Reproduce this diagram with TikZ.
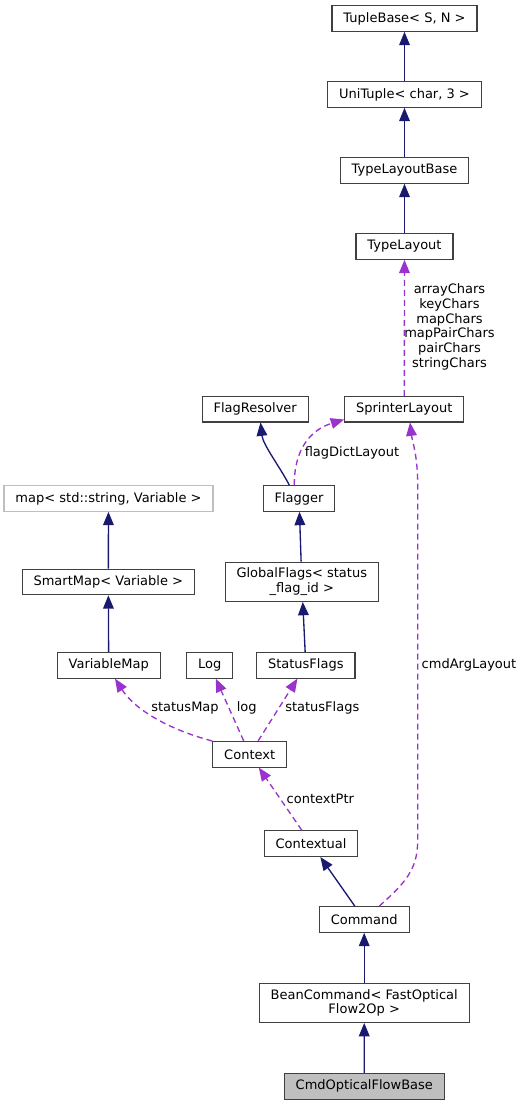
\documentclass[tikz,border=0pt]{standalone}
\usepackage{fontspec}
\setmainfont{DejaVu Sans}
\usetikzlibrary{arrows.meta,calc}
\definecolor{edgeblue}{HTML}{191970}
\definecolor{edgepurple}{HTML}{9A32CD}
\definecolor{boxgray}{HTML}{404040}
\definecolor{faintgray}{HTML}{BFBFBF}

\begin{document}
\begin{tikzpicture}[x=0.75pt, y=0.75pt,
    font=\fontsize{9.75}{11.1}\selectfont,
    cls/.style={rectangle, draw=boxgray, line width=0.8pt, fill=white, minimum height=19.2pt,
      inner xsep=8.6pt, inner ysep=4.3pt, align=center},
    inh/.style={color=edgeblue, line width=1pt, -{Triangle[length=10pt, width=8pt]}},
    use/.style={color=edgepurple, line width=1pt, dash pattern=on 4.5pt off 3pt,
      -{Triangle[length=10pt, width=8pt]}},
    lbl/.style={align=center, inner sep=0pt}]
      \useasboundingbox (0, 0) rectangle (522, 1105);

      % Nodes
      \node[cls] at (404.5, 1086.5) (TupleBase) {TupleBase< S, N >};
      \node[cls] at (404.5, 1010.5) (UniTuple) {UniTuple< char, 3 >};
      \node[cls] at (404.5, 934.5) (TypeLayoutBase) {TypeLayoutBase};
      \node[cls] at (404.5, 858.5) (TypeLayout) {TypeLayout};
      \node[cls] at (255.2, 695.8) (FlagResolver) {FlagResolver};
      \node[cls] at (404.3, 695.8) (SprinterLayout) {SprinterLayout};
      \node[cls, draw=faintgray] at (108.5, 606.5) (StdMap) {map< std::string, Variable >};
      \node[cls] at (299, 606.5) (Flagger) {Flagger};
      \node[cls] at (108.3, 523) (SmartMap) {SmartMap< Variable >};
      \node[cls] at (301.8, 523.2) (GlobalFlags) {GlobalFlags< status\\\_flag\_id >};
      \node[cls] at (108.7, 439.7) (VariableMap) {VariableMap};
      \node[cls] at (209.8, 439.7) (Log) {Log};
      \node[cls] at (305.8, 439.7) (StatusFlags) {StatusFlags};
      \node[cls] at (249.7, 350.7) (Context) {Context};
      \node[cls] at (311, 261.3) (Contextual) {Contextual};
      \node[cls] at (364.2, 185.5) (Command) {Command};
      \node[cls] at (364.2, 102) (BeanCommand) {BeanCommand< FastOptical\\Flow2Op >};
      \node[cls, fill=faintgray] at (364.3, 18.7) (CmdOpticalFlowBase) {CmdOpticalFlowBase};

      % Labels
      \node[lbl] at (449.5, 778) (charsLbl) {arrayChars\\keyChars\\mapChars\\mapPairChars\\pairChars\\stringChars};
      \node[lbl] at (352, 652.5) (flagDictLbl) {flagDictLayout};
      \node[lbl] at (469, 440) (cmdArgLbl) {cmdArgLayout};
      \node[lbl] at (185, 396.7) (statusMapLbl) {statusMap};
      \node[lbl] at (246.7, 396.7) (logLbl) {log};
      \node[lbl] at (322.3, 396.7) (statusFlagsLbl) {statusFlags};
      \node[lbl] at (320.3, 306) (contextPtrLbl) {contextPtr};

      % Inheritance
      \draw[inh] (UniTuple) edge (TupleBase);
      \draw[inh] (TypeLayoutBase) edge (UniTuple);
      \draw[inh] (TypeLayout) edge (TypeLayoutBase);
      \draw[inh] ($(Flagger.north)+(-9.7,0)$) .. controls (280, 638) and (263, 660) .. ($(FlagResolver.south)+(5.3,0)$);
      \draw[inh] (GlobalFlags) edge (Flagger);
      \draw[inh] (StatusFlags) edge (GlobalFlags);
      \draw[inh] (SmartMap) edge (StdMap);
      \draw[inh] (VariableMap) edge (SmartMap);
      \draw[inh] (Command) edge (Contextual);
      \draw[inh] (BeanCommand) edge (Command);
      \draw[inh] (CmdOpticalFlowBase) edge (BeanCommand);

      % Usage
      \draw[use] (SprinterLayout) edge (TypeLayout);
      \draw[use] ($(Flagger.north)+(-4.7,0)$) .. controls (294, 655) and (310, 675) .. ($(SprinterLayout.south west)+(0,3)$);
      \draw[use] ($(Command.north)+(15,0)$) .. controls (405, 222) and (417.7, 235) .. (417.7, 265)
        -- (417.7, 620) .. controls (417.7, 650) and (412, 665) .. ($(SprinterLayout.south)+(5.7,0)$);
      \draw[use] (Context.north west) .. controls (170, 375) and (135, 395) .. ($(VariableMap.south)+(6.3,0)$);
      \draw[use] (Context) edge (Log);
      \draw[use] (Context) edge (StatusFlags);
      \draw[use] (Contextual) edge (Context);
    \end{tikzpicture}
\end{document}
